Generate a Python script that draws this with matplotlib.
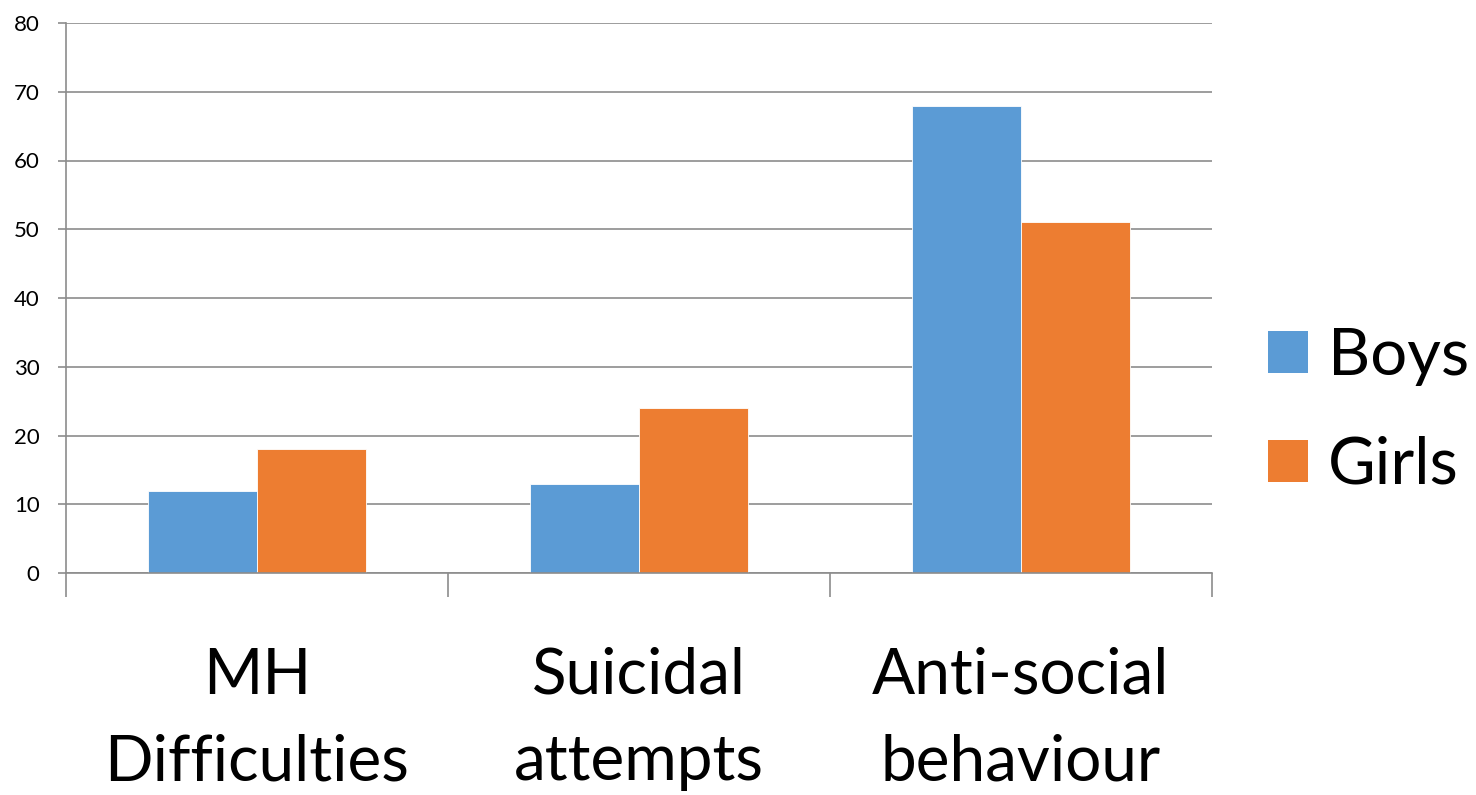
import matplotlib
matplotlib.use("Agg")
import matplotlib.pyplot as plt
from matplotlib.patches import Patch
import numpy as np

categories = ["MH\nDifficulties", "Suicidal\nattempts", "Anti-social\nbehaviour"]
boys = [12, 13, 68]
girls = [18, 24, 51]
series_names = ["Boys", "Girls"]
y_ticks = [0, 10, 20, 30, 40, 50, 60, 70, 80]

BLUE = "#5B9BD5"
ORANGE = "#ED7D31"
GRID = "#8C8C8C"

plt.rcParams["font.family"] = ["Lato", "DejaVu Sans"]

fig = plt.figure(figsize=(14.76, 7.95), dpi=100)
ax = fig.add_axes([66 / 1476, 1 - 573 / 795, (1212 - 66) / 1476, (573 - 23) / 795])

x = np.arange(len(categories))
w = 1 / 3.5  # gap width 150%
ax.bar(x - w / 2, boys, width=w, color=BLUE, edgecolor="white", linewidth=0.6, zorder=3)
ax.bar(x + w / 2, girls, width=w, color=ORANGE, edgecolor="white", linewidth=0.6, zorder=3)

ax.set_xlim(-0.5, len(categories) - 0.5)
ax.set_ylim(0, 80)
ax.set_yticks(y_ticks)
ax.set_yticklabels([str(v) for v in y_ticks], fontsize=16)
ax.yaxis.grid(True, color=GRID, linewidth=1.2, zorder=0)
ax.tick_params(axis="y", length=6, width=1.2, color=GRID, pad=13)

ax.set_xticks(x)
ax.set_xticklabels(categories, fontsize=46, linespacing=1.61)
ax.tick_params(axis="x", which="major", length=0, pad=53)
ax.set_xticks(np.arange(len(categories) + 1) - 0.5, minor=True)
ax.tick_params(axis="x", which="minor", length=17, width=1.2, color=GRID)

for side in ["top", "right"]:
    ax.spines[side].set_visible(False)
for side in ["left", "bottom"]:
    ax.spines[side].set_color(GRID)
    ax.spines[side].set_linewidth(1.2)
ax.spines["bottom"].set_zorder(4)

handles = [Patch(facecolor=BLUE), Patch(facecolor=ORANGE)]
fig.legend(handles, series_names, loc="center left",
           bbox_to_anchor=(1268 / 1476, 1 - 411 / 795),
           frameon=False, fontsize=47, handlelength=0.62, handleheight=0.62,
           handletextpad=0.3, labelspacing=0.76, borderpad=0, borderaxespad=0)

fig.savefig("out.png", dpi=100, facecolor="white")
